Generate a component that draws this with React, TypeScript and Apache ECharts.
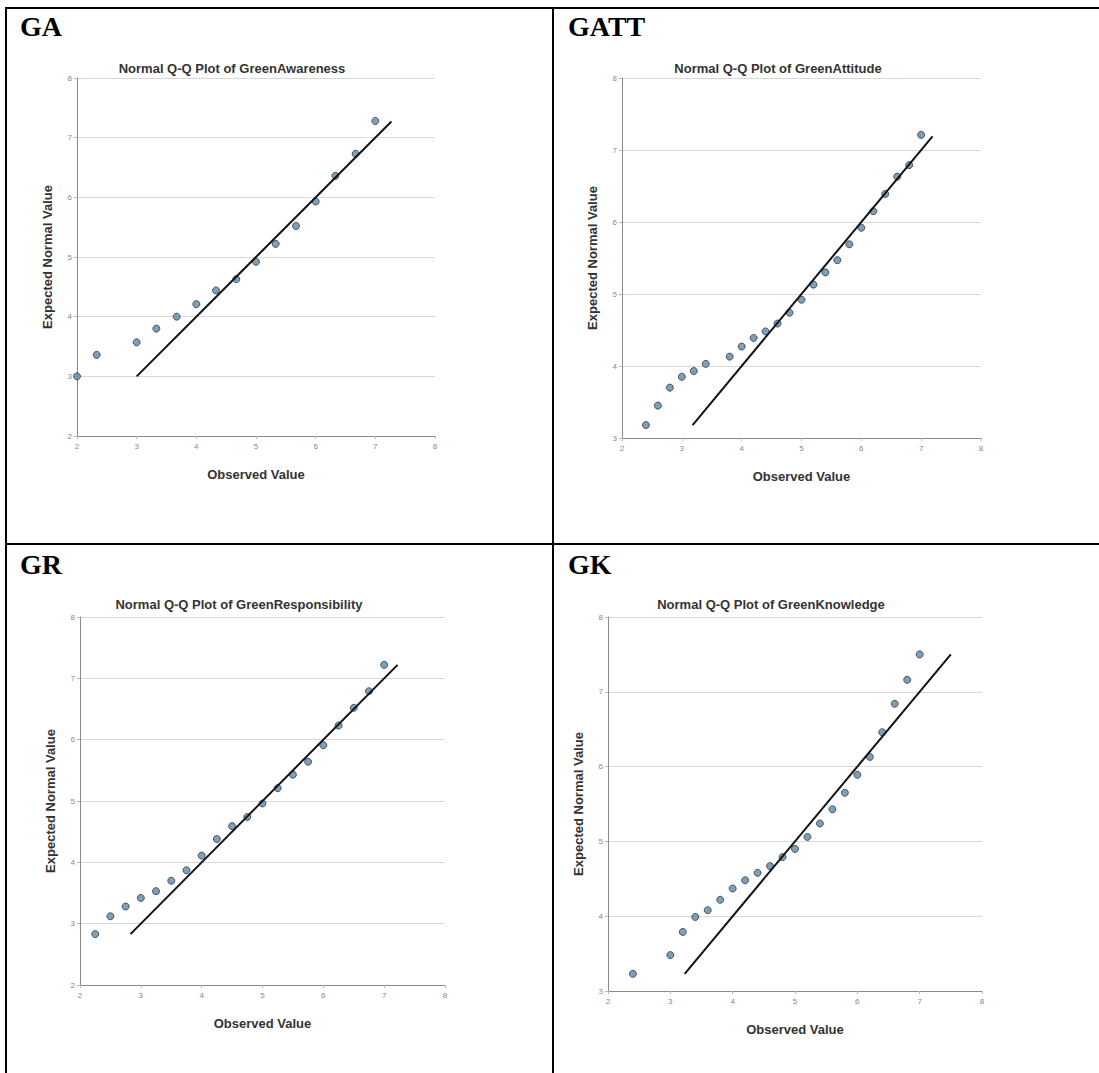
import React, { useEffect, useRef } from "react";
import * as echarts from "echarts";

// ---- data ----
const GA_X = [2, 2.33, 3, 3.33, 3.67, 4, 4.33, 4.67, 5, 5.33, 5.67, 6, 6.33, 6.67, 7];
const GA_Y = [3.0, 3.36, 3.57, 3.8, 4.0, 4.21, 4.44, 4.63, 4.92, 5.22, 5.52, 5.93, 6.36, 6.73, 7.28];
const GA_LINE = [3.0, 7.27];

const GATT_X = [2.4, 2.6, 2.8, 3.0, 3.2, 3.4, 3.8, 4.0, 4.2, 4.4, 4.6, 4.8, 5.0, 5.2, 5.4, 5.6, 5.8, 6.0, 6.2, 6.4, 6.6, 6.8, 7.0];
const GATT_Y = [3.18, 3.45, 3.7, 3.85, 3.93, 4.03, 4.13, 4.27, 4.39, 4.48, 4.59, 4.74, 4.92, 5.13, 5.3, 5.47, 5.69, 5.92, 6.15, 6.39, 6.63, 6.79, 7.21];
const GATT_LINE = [3.18, 7.19];

const GR_X = [2.25, 2.5, 2.75, 3.0, 3.25, 3.5, 3.75, 4.0, 4.25, 4.5, 4.75, 5.0, 5.25, 5.5, 5.75, 6.0, 6.25, 6.5, 6.75, 7.0];
const GR_Y = [2.83, 3.12, 3.28, 3.42, 3.53, 3.7, 3.87, 4.11, 4.38, 4.59, 4.74, 4.96, 5.21, 5.43, 5.64, 5.91, 6.23, 6.52, 6.79, 7.22];
const GR_LINE = [2.83, 7.22];

const GK_X = [2.4, 3.0, 3.2, 3.4, 3.6, 3.8, 4.0, 4.2, 4.4, 4.6, 4.8, 5.0, 5.2, 5.4, 5.6, 5.8, 6.0, 6.2, 6.4, 6.6, 6.8, 7.0];
const GK_Y = [3.23, 3.48, 3.79, 3.99, 4.08, 4.22, 4.37, 4.48, 4.58, 4.67, 4.79, 4.9, 5.06, 5.24, 5.43, 5.65, 5.89, 6.13, 6.46, 6.84, 7.16, 7.5];
const GK_LINE = [3.23, 7.5];

const PANEL_LABELS = ["GA", "GATT", "GR", "GK"];
const PANEL_TITLES = [
  "Normal Q-Q Plot of GreenAwareness",
  "Normal Q-Q Plot of GreenAttitude",
  "Normal Q-Q Plot of GreenResponsibility",
  "Normal Q-Q Plot of GreenKnowledge",
];
const Y_MINS = [2, 3, 2, 3];
const X_MIN = 2;
const X_MAX = 8;
const Y_MAX = 8;
const X_NAME = "Observed Value";
const Y_NAME = "Expected Normal Value";

const W = 1099;
const H = 1073;

// layout (pixels)
const GRIDS = [
  { left: 77, top: 78, width: 358, height: 358 },
  { left: 622, top: 78, width: 359, height: 360 },
  { left: 80, top: 617, width: 365, height: 368 },
  { left: 608, top: 617, width: 374, height: 374 },
];
const TITLE_POS = [
  { x: 232, y: 68 },
  { x: 778, y: 68 },
  { x: 239, y: 604 },
  { x: 771, y: 604 },
];
const LABEL_POS = [
  { x: 20, y: 12 },
  { x: 568, y: 12 },
  { x: 20, y: 550 },
  { x: 568, y: 550 },
];

export default function App() {
  const ref = useRef<HTMLDivElement>(null);

  useEffect(() => {
    if (!ref.current) return;
    const chart = echarts.init(ref.current, undefined, { renderer: "svg" });

    const xs = [GA_X, GATT_X, GR_X, GK_X];
    const ys = [GA_Y, GATT_Y, GR_Y, GK_Y];
    const lines = [GA_LINE, GATT_LINE, GR_LINE, GK_LINE];

    const grid = GRIDS.map((g) => ({ ...g, containLabel: false }));

    const font = "Liberation Sans, Arial, sans-serif";

    const xAxis = GRIDS.map((_, i) => ({
      type: "value",
      gridIndex: i,
      min: X_MIN,
      max: X_MAX,
      interval: 1,
      name: X_NAME,
      nameLocation: "middle",
      nameGap: 32,
      nameTextStyle: { fontSize: 13, fontWeight: "bold", color: "#333", fontFamily: font },
      axisLine: { show: true, onZero: false, lineStyle: { color: "#8a8a8a", width: 1 } },
      axisTick: { show: true, length: 3, lineStyle: { color: "#bbb" } },
      axisLabel: { fontSize: 8, color: "#888", margin: 6, fontFamily: font },
      splitLine: { show: false },
    }));

    const yAxis = GRIDS.map((_, i) => ({
      type: "value",
      gridIndex: i,
      min: Y_MINS[i],
      max: Y_MAX,
      interval: 1,
      name: Y_NAME,
      nameLocation: "middle",
      nameGap: 23,
      nameTextStyle: { fontSize: 13, fontWeight: "bold", color: "#333", fontFamily: font },
      axisLine: { show: true, onZero: false, lineStyle: { color: "#8a8a8a", width: 1 } },
      axisTick: { show: true, length: 3, lineStyle: { color: "#bbb" } },
      axisLabel: { fontSize: 8, color: "#888", margin: 5, fontFamily: font },
      splitLine: { show: true, lineStyle: { color: "#d8d8d8", width: 1 } },
    }));

    const series: any[] = [];
    GRIDS.forEach((_, i) => {
      series.push({
        type: "scatter",
        xAxisIndex: i,
        yAxisIndex: i,
        data: xs[i].map((x, k) => [x, ys[i][k]]),
        symbol: "circle",
        symbolSize: 7,
        clip: true,
        itemStyle: { color: "#5d88a8", borderColor: "#2e3a46", borderWidth: 1 },
        z: 2,
      });
      series.push({
        type: "line",
        xAxisIndex: i,
        yAxisIndex: i,
        data: [
          [lines[i][0], lines[i][0]],
          [lines[i][1], lines[i][1]],
        ],
        symbol: "none",
        lineStyle: { color: "#111", width: 2 },
        z: 3,
      });
    });

    const graphic: any[] = [
      // table borders
      { type: "line", shape: { x1: 5, y1: 8, x2: W, y2: 8 }, style: { stroke: "#000", lineWidth: 2 } },
      { type: "line", shape: { x1: 6, y1: 7, x2: 6, y2: H }, style: { stroke: "#000", lineWidth: 2 } },
      { type: "line", shape: { x1: 553, y1: 7, x2: 553, y2: H }, style: { stroke: "#000", lineWidth: 2 } },
      { type: "line", shape: { x1: 5, y1: 544, x2: W, y2: 544 }, style: { stroke: "#000", lineWidth: 2 } },
    ];
    PANEL_LABELS.forEach((t, i) => {
      graphic.push({
        type: "text",
        x: LABEL_POS[i].x,
        y: LABEL_POS[i].y,
        style: {
          text: t,
          fontSize: 28,
          fontWeight: "bold",
          fontFamily: "Liberation Serif, Times New Roman, serif",
          fill: "#000",
          textAlign: "left",
          textVerticalAlign: "top",
        },
      });
    });
    PANEL_TITLES.forEach((t, i) => {
      graphic.push({
        type: "text",
        x: TITLE_POS[i].x,
        y: TITLE_POS[i].y,
        style: {
          text: t,
          fontSize: 13,
          fontWeight: "bold",
          fontFamily: font,
          fill: "#333",
          textAlign: "center",
          textVerticalAlign: "middle",
        },
      });
    });

    chart.setOption({
      animation: false,
      backgroundColor: "#fff",
      grid,
      xAxis,
      yAxis,
      series,
      graphic,
    });

    return () => chart.dispose();
  }, []);

  return (
    <div
      ref={ref}
      style={{ position: "absolute", left: 0, top: 0, width: W, height: H, background: "#fff" }}
    />
  );
}
